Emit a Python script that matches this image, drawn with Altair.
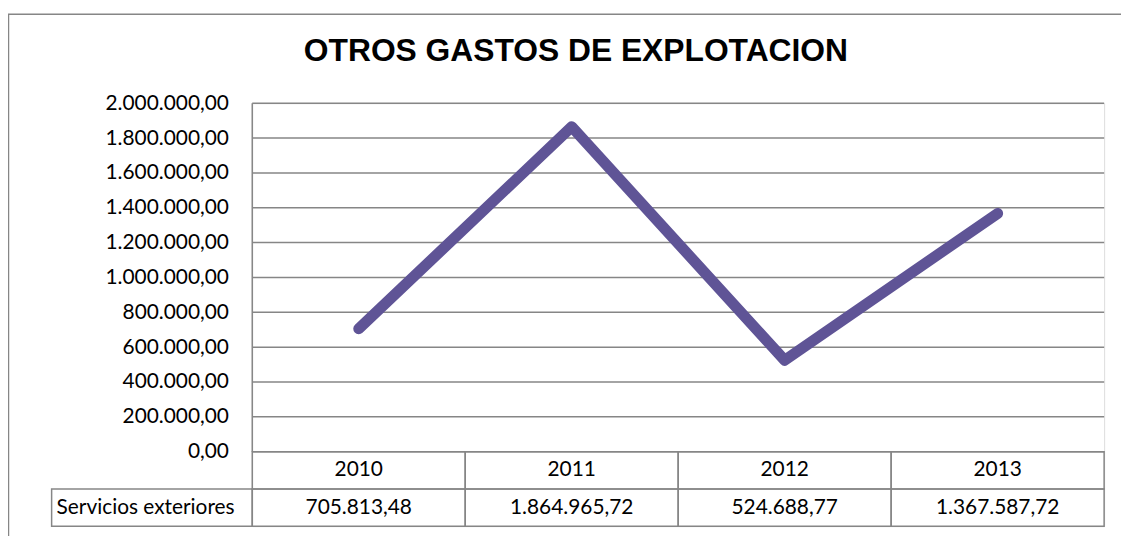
import altair as alt
import pandas as pd

# ---- data ----
years = ["2010", "2011", "2012", "2013"]
values = [705813.48, 1864965.72, 524688.77, 1367587.72]
series_name = "Servicios exteriores"
y_ticks = [0, 200000, 400000, 600000, 800000, 1000000,
           1200000, 1400000, 1600000, 1800000, 2000000]
title_text = "OTROS GASTOS DE EXPLOTACION"

# ---- layout (pixels) ----
PAD_L, PAD_T, PAD_R, PAD_B = 246, 94, 17, 8
W, H = 858, 426
ZERO_Y = 351            # pixel of value 0 inside plot
HEADER_W_UNITS = 0.942  # width of the row-header cell in category units
YMAX = 2000000
TABLE_SPAN = YMAX * (H - ZERO_Y) / ZERO_Y   # value units covered by the table
ROW = TABLE_SPAN / 2
NCAT = len(years)
PX_X = W / NCAT          # pixels per category unit
PX_Y = ZERO_Y / YMAX     # pixels per value unit

GRID = "#868686"
LINE = "#5F5496"
FONT = "Lato"
FS = 21

line_df = pd.DataFrame({
    "pos": [i + 0.5 for i in range(NCAT)],
    "value": values,
})
grid_df = pd.DataFrame({"tick": y_ticks, "gx0": 0.0, "gx1": float(NCAT)})
axis_df = pd.DataFrame({"ax": [0.0], "ay0": [0.0], "ay1": [float(YMAX)]})
# outer chart-area frame (decoration), expressed in scale units
frame_df = pd.DataFrame({
    "fx0": [-245.5 / PX_X], "fx1": [(W + 60) / PX_X],
    "fy0": [YMAX + 89.5 / PX_Y], "fy1": [-TABLE_SPAN - 60 / PX_Y],
})

cells = []
for i, yr in enumerate(years):
    cells.append({"x0": i, "x1": i + 1, "r0": 0, "r1": -ROW, "rm": -ROW / 2,
                  "txt": yr, "xm": i + 0.5, "hdr": 0})
cells.append({"x0": -HEADER_W_UNITS, "x1": 0, "r0": -ROW, "r1": -2 * ROW,
              "rm": -1.5 * ROW, "txt": series_name, "xm": -HEADER_W_UNITS,
              "hdr": 1})
for i, v in enumerate(values):
    s = f"{v:,.2f}".replace(",", "_").replace(".", ",").replace("_", ".")
    cells.append({"x0": i, "x1": i + 1, "r0": -ROW, "r1": -2 * ROW,
                  "rm": -1.5 * ROW, "txt": s, "xm": i + 0.5, "hdr": 0})
cells_df = pd.DataFrame(cells)

xscale = alt.Scale(domain=[0, NCAT], nice=False, zero=False)
yscale = alt.Scale(domain=[-TABLE_SPAN, YMAX], nice=False, zero=False)
yaxis = alt.Axis(
    values=y_ticks, format=",.2f", grid=False, ticks=False,
    domain=False, labelFont=FONT,
    labelFontSize=FS, labelColor="black", labelPadding=24,
    title=None)

frame = alt.Chart(frame_df).mark_rect(
    fillOpacity=0, stroke=GRID, strokeWidth=1.5
).encode(
    x=alt.X("fx0:Q", scale=xscale, axis=None), x2="fx1:Q",
    y=alt.Y("fy0:Q", scale=yscale, axis=yaxis), y2="fy1:Q",
)

grid = alt.Chart(grid_df).mark_rule(color=GRID, strokeWidth=1.5).encode(
    x=alt.X("gx0:Q", scale=xscale, axis=None),
    x2="gx1:Q",
    y=alt.Y("tick:Q", scale=yscale, axis=yaxis),
)

yaxis_line = alt.Chart(axis_df).mark_rule(color=GRID, strokeWidth=1.5).encode(
    x=alt.X("ax:Q", scale=xscale, axis=None),
    y=alt.Y("ay0:Q", scale=yscale, axis=yaxis),
    y2="ay1:Q",
)

line = alt.Chart(line_df).mark_line(
    color=LINE, strokeWidth=11, strokeCap="round", strokeJoin="round"
).encode(
    x=alt.X("pos:Q", scale=xscale, axis=None),
    y=alt.Y("value:Q", scale=yscale, axis=yaxis),
)

table_cells = alt.Chart(cells_df).mark_rect(
    fillOpacity=0, stroke=GRID, strokeWidth=1.5
).encode(
    x=alt.X("x0:Q", scale=xscale, axis=None),
    x2="x1:Q",
    y=alt.Y("r0:Q", scale=yscale, axis=yaxis),
    y2="r1:Q",
)

table_text_center = alt.Chart(cells_df).transform_filter(
    alt.datum.hdr == 0
).mark_text(font=FONT, fontSize=FS, color="black", baseline="middle",
            align="center").encode(
    x=alt.X("xm:Q", scale=xscale, axis=None),
    y=alt.Y("rm:Q", scale=yscale, axis=yaxis),
    text="txt:N",
)

table_text_header = alt.Chart(cells_df).transform_filter(
    alt.datum.hdr == 1
).mark_text(font=FONT, fontSize=FS, color="black", baseline="middle",
            align="left", dx=5).encode(
    x=alt.X("xm:Q", scale=xscale, axis=None),
    y=alt.Y("rm:Q", scale=yscale, axis=yaxis),
    text="txt:N",
)

chart = alt.layer(
    frame, grid, yaxis_line, table_cells, table_text_center,
    table_text_header, line,
).properties(
    width=W, height=H,
    autosize=alt.AutoSizeParams(type="none"),
    padding={"left": PAD_L, "top": PAD_T, "right": PAD_R, "bottom": PAD_B},
    title=alt.TitleParams(
        title_text, font="Liberation Sans", fontSize=32, fontWeight="bold",
        color="black", anchor="middle", frame="group", dx=-103, offset=-80,
        baseline="alphabetic"),
).configure_view(stroke=None).configure(
    background="white",
    locale={"number": {"decimal": ",", "thousands": ".", "grouping": [3],
                       "currency": ["", " €"]}},
)

chart.save("out.html", embed_options={"renderer": "svg", "actions": False})
